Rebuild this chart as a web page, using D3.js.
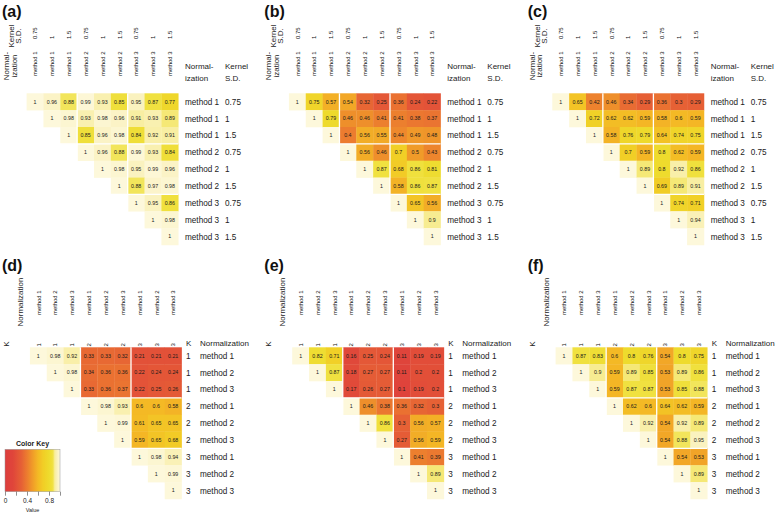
<!DOCTYPE html>
<html>
<head>
<meta charset="utf-8">
<script src="https://cdn.jsdelivr.net/npm/d3@7"></script>
<style>
  body { margin: 0; background: #fff; }
  svg { font-family: "Liberation Sans", Arial, sans-serif; }
</style>
</head>
<body>
<svg id="chart"></svg>
<script>
// factor levels
var methods = ["method 1", "method 2", "method 3"];
var kernelSD = ["0.75", "1", "1.5"];
var kValues = ["1", "2", "3"];

// upper triangle of each correlation matrix, row by row (row r starts at column r)
var valuesA = [
  [1, 0.96, 0.88, 0.99, 0.93, 0.85, 0.95, 0.87, 0.77],
  [1, 0.98, 0.93, 0.98, 0.96, 0.91, 0.93, 0.89],
  [1, 0.85, 0.96, 0.98, 0.84, 0.92, 0.91],
  [1, 0.96, 0.88, 0.99, 0.93, 0.84],
  [1, 0.98, 0.95, 0.99, 0.96],
  [1, 0.88, 0.97, 0.98],
  [1, 0.95, 0.86],
  [1, 0.98],
  [1]
];
var valuesB = [
  [1, 0.75, 0.57, 0.54, 0.32, 0.25, 0.36, 0.24, 0.22],
  [1, 0.79, 0.46, 0.46, 0.41, 0.41, 0.38, 0.37],
  [1, 0.4, 0.56, 0.55, 0.44, 0.49, 0.48],
  [1, 0.56, 0.46, 0.7, 0.5, 0.43],
  [1, 0.87, 0.68, 0.86, 0.81],
  [1, 0.58, 0.86, 0.87],
  [1, 0.65, 0.56],
  [1, 0.9],
  [1]
];
var valuesC = [
  [1, 0.65, 0.42, 0.46, 0.34, 0.29, 0.36, 0.3, 0.29],
  [1, 0.72, 0.62, 0.62, 0.59, 0.58, 0.6, 0.59],
  [1, 0.58, 0.76, 0.79, 0.64, 0.74, 0.75],
  [1, 0.7, 0.59, 0.8, 0.62, 0.59],
  [1, 0.89, 0.8, 0.92, 0.86],
  [1, 0.69, 0.89, 0.91],
  [1, 0.74, 0.71],
  [1, 0.94],
  [1]
];
var valuesD = [
  [1, 0.98, 0.92, 0.33, 0.33, 0.32, 0.21, 0.21, 0.21],
  [1, 0.98, 0.34, 0.36, 0.36, 0.22, 0.24, 0.24],
  [1, 0.33, 0.36, 0.37, 0.22, 0.25, 0.26],
  [1, 0.98, 0.93, 0.6, 0.6, 0.58],
  [1, 0.99, 0.61, 0.65, 0.65],
  [1, 0.59, 0.65, 0.68],
  [1, 0.98, 0.94],
  [1, 0.99],
  [1]
];
var valuesE = [
  [1, 0.82, 0.71, 0.16, 0.25, 0.24, 0.11, 0.19, 0.19],
  [1, 0.87, 0.18, 0.27, 0.27, 0.11, 0.2, 0.2],
  [1, 0.17, 0.26, 0.27, 0.1, 0.19, 0.2],
  [1, 0.46, 0.38, 0.36, 0.32, 0.3],
  [1, 0.86, 0.3, 0.56, 0.57],
  [1, 0.27, 0.56, 0.59],
  [1, 0.41, 0.39],
  [1, 0.89],
  [1]
];
var valuesF = [
  [1, 0.87, 0.83, 0.6, 0.8, 0.76, 0.54, 0.8, 0.75],
  [1, 0.9, 0.59, 0.89, 0.85, 0.53, 0.89, 0.86],
  [1, 0.59, 0.87, 0.87, 0.53, 0.85, 0.88],
  [1, 0.62, 0.6, 0.64, 0.62, 0.59],
  [1, 0.92, 0.54, 0.92, 0.89],
  [1, 0.54, 0.88, 0.95],
  [1, 0.54, 0.53],
  [1, 0.89],
  [1]
];
var keyTicks = [0, 0.2, 0.4, 0.6, 0.8, 1];
var keyLabels = [0, 0.4, 0.8];

var panels = [
  {tag: "(a)", values: valuesA, layout: "kernel"},
  {tag: "(b)", values: valuesB, layout: "kernel"},
  {tag: "(c)", values: valuesC, layout: "kernel"},
  {tag: "(d)", values: valuesD, layout: "k"},
  {tag: "(e)", values: valuesE, layout: "k"},
  {tag: "(f)", values: valuesF, layout: "k"}
];

// heat-colour style ramp
var colorStops = [0, 0.15, 0.3, 0.4, 0.5, 0.6, 0.7, 0.8, 0.87, 0.905, 0.96, 1];
var colorRange = ["#dc3d3d", "#e0463a", "#e66135", "#ec7c2f", "#f09b29", "#f4b925",
                  "#f1cf26", "#eedb2d", "#f0e140", "#f8ee9e", "#fbf3c6", "#fdf8db"];
var color = d3.scaleLinear().domain(colorStops).range(colorRange).clamp(true);

var cell = 16.85,
    gridTop = 93.3,
    panelX = [0, 262.3, 525.7],
    panelY = [0, 254];

var layouts = {
  kernel: {
    gx: 26.6,
    lab1: function(c) { return methods[Math.floor(c / 3)]; },
    lab2: function(c) { return kernelSD[c % 3]; },
    nearY: 76, farY: 39,
    head1: {lines: ["Normal-", "ization"], xs: [9, 16.5], cy: 66},
    head2: {lines: ["Kernel", "S.D."], xs: [14, 21], cy: 36},
    rowX: [185, 225], headY: [69, 81]
  },
  k: {
    gx: 29.9,
    lab1: function(c) { return kValues[Math.floor(c / 3)]; },
    lab2: function(c) { return methods[c % 3]; },
    nearY: 92.5, farY: 61,
    head1: {lines: ["K"], xs: [9], cy: 90},
    head2: {lines: ["Normalization"], xs: [23], cy: 48},
    rowX: [186, 200], headY: [92]
  }
};

var svg = d3.select("#chart").attr("width", 780).attr("height", 517);

panels.forEach(function(p, i) {
  var L = layouts[p.layout];
  var g = svg.append("g")
      .attr("transform", "translate(" + panelX[i % 3] + "," + panelY[Math.floor(i / 3)] + ")");

  var x = d3.scaleBand().domain(d3.range(9)).range([L.gx, L.gx + 9 * cell]);
  var y = d3.scaleBand().domain(d3.range(9)).range([gridTop, gridTop + 9 * cell]);
  var bw = x.bandwidth();

  var cells = [];
  p.values.forEach(function(row, r) {
    row.forEach(function(v, k) { cells.push({r: r, c: r + k, v: v}); });
  });

  g.selectAll("rect.cell")
    .data(cells)
    .join("rect")
      .attr("class", "cell")
      .attr("x", function(d) { return x(d.c); })
      .attr("y", function(d) { return y(d.r); })
      .attr("width", bw + 0.3)
      .attr("height", bw + 0.3)
      .attr("fill", function(d) { return color(d.v); });

  g.selectAll("text.val")
    .data(cells)
    .join("text")
      .attr("class", "val")
      .attr("x", function(d) { return x(d.c) + bw / 2; })
      .attr("y", function(d) { return y(d.r) + bw / 2 + 1.9; })
      .attr("text-anchor", "middle")
      .attr("font-size", 5.3)
      .attr("fill", "#1a1a1a")
      .text(function(d) { return String(d.v); });

  // white separators between groups of three
  [3, 6].forEach(function(b) {
    g.append("line")
      .attr("x1", x(b)).attr("x2", x(b))
      .attr("y1", gridTop).attr("y2", gridTop + 9 * cell)
      .attr("stroke", "#fff").attr("stroke-width", 1.3);
    g.append("line")
      .attr("x1", L.gx).attr("x2", L.gx + 9 * cell)
      .attr("y1", y(b)).attr("y2", y(b))
      .attr("stroke", "#fff").attr("stroke-width", 1.3);
  });

  // column labels (rotated)
  var cols = d3.range(9);
  g.selectAll("text.near")
    .data(cols)
    .join("text")
      .attr("class", "near")
      .attr("transform", function(c) { return "translate(" + (x(c) + bw / 2 + 2.3) + "," + L.nearY + ") rotate(-90)"; })
      .attr("font-size", 5.9)
      .attr("fill", "#111")
      .text(L.lab1);
  g.selectAll("text.far")
    .data(cols)
    .join("text")
      .attr("class", "far")
      .attr("transform", function(c) { return "translate(" + (x(c) + bw / 2 + 2.3) + "," + L.farY + ") rotate(-90)"; })
      .attr("font-size", 5.9)
      .attr("fill", "#111")
      .text(L.lab2);

  // left headers (rotated)
  [L.head1, L.head2].forEach(function(h) {
    h.lines.forEach(function(t, j) {
      g.append("text")
        .attr("transform", "translate(" + h.xs[j] + "," + h.cy + ") rotate(-90)")
        .attr("text-anchor", "middle")
        .attr("font-size", 8)
        .attr("fill", "#222")
        .text(t);
    });
  });

  // right headers
  [L.head1, L.head2].forEach(function(h, k) {
    h.lines.forEach(function(t, j) {
      g.append("text")
        .attr("x", L.rowX[k])
        .attr("y", L.headY[j])
        .attr("font-size", 8)
        .attr("fill", "#222")
        .text(t);
    });
  });

  // row labels
  g.selectAll("text.row1")
    .data(cols)
    .join("text")
      .attr("class", "row1")
      .attr("x", L.rowX[0])
      .attr("y", function(r) { return y(r) + bw / 2 + 3; })
      .attr("font-size", 8.2)
      .attr("fill", "#222")
      .text(L.lab1);
  g.selectAll("text.row2")
    .data(cols)
    .join("text")
      .attr("class", "row2")
      .attr("x", L.rowX[1])
      .attr("y", function(r) { return y(r) + bw / 2 + 3; })
      .attr("font-size", 8.2)
      .attr("fill", "#222")
      .text(L.lab2);

  g.append("text")
    .attr("x", 2)
    .attr("y", 17)
    .attr("font-size", 16)
    .attr("font-weight", "bold")
    .attr("fill", "#111")
    .text(p.tag);
});

// Color key
var keyX = d3.scaleLinear().domain([0, 1]).range([5, 60]);
var keyTop = 449.3, keyBottom = 491.7;

var grad = svg.append("defs").append("linearGradient")
    .attr("id", "keygrad")
    .attr("x1", "0%").attr("x2", "100%").attr("y1", "0%").attr("y2", "0%");
grad.selectAll("stop")
  .data(d3.range(0, 1.0001, 0.02))
  .join("stop")
    .attr("offset", function(d) { return (d * 100) + "%"; })
    .attr("stop-color", function(d) { return color(d); });

svg.append("text")
  .attr("x", 32.5).attr("y", 446)
  .attr("text-anchor", "middle")
  .attr("font-size", 7)
  .attr("font-weight", "bold")
  .attr("fill", "#222")
  .text("Color Key");

svg.append("rect")
  .attr("x", keyX(0)).attr("y", keyTop)
  .attr("width", keyX(1) - keyX(0)).attr("height", keyBottom - keyTop)
  .attr("fill", "url(#keygrad)")
  .attr("stroke", "#999").attr("stroke-width", 0.5);

var keyAxis = svg.append("g")
  .attr("transform", "translate(0," + keyBottom + ")")
  .call(d3.axisBottom(keyX)
    .tickValues(keyTicks)
    .tickSize(4)
    .tickPadding(2.5)
    .tickFormat(function(d) { return keyLabels.indexOf(d) >= 0 ? d : ""; }));
keyAxis.select(".domain").remove();
keyAxis.selectAll("line").attr("stroke", "#444").attr("stroke-width", 0.6);
keyAxis.selectAll("text").attr("font-size", 6.5).attr("fill", "#222")
  .attr("font-family", "Liberation Sans, Arial, sans-serif");

svg.append("text")
  .attr("x", 32.5).attr("y", 512)
  .attr("text-anchor", "middle")
  .attr("font-size", 5.5)
  .attr("fill", "#222")
  .text("Value");
</script>
</body>
</html>
